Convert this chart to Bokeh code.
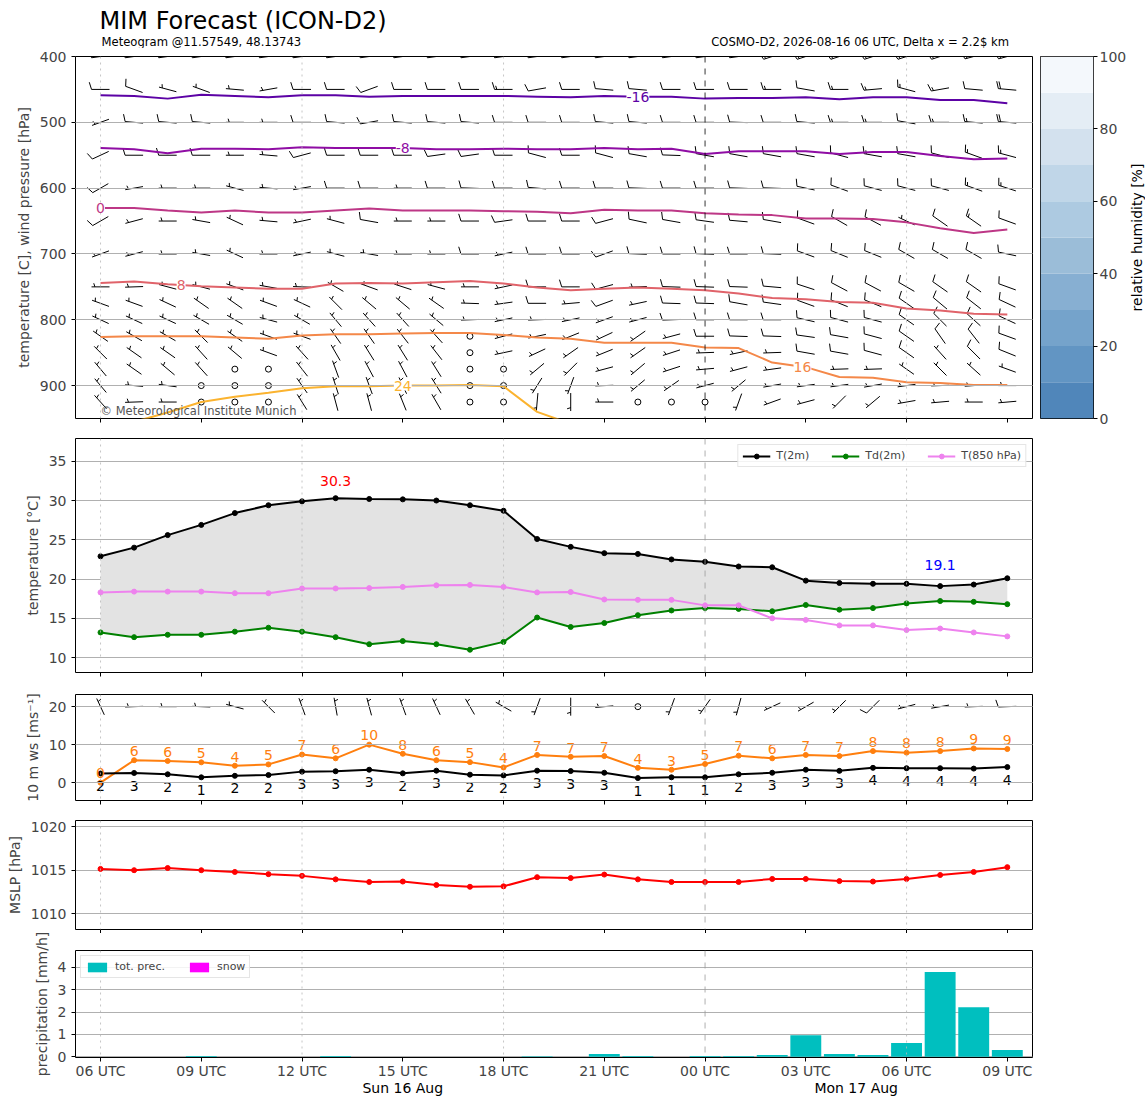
import math
import numpy as np
from bokeh.plotting import figure
from bokeh.layouts import column, row
from bokeh.models import Range1d, FixedTicker, Span, Label, Legend, LegendItem
from bokeh.core.properties import value
from bokeh.embed import file_html
from bokeh.resources import INLINE

FONT = "DejaVu Sans"
NAN = float("nan")

# ---------------- data ----------------
hours = list(range(28))                       # 2026-08-16 06 UTC ... 2026-08-17 09 UTC
tick_hours = [0, 3, 6, 9, 12, 15, 18, 21, 24, 27]
tick_labels = ["06 UTC", "09 UTC", "12 UTC", "15 UTC", "18 UTC", "21 UTC",
               "00 UTC", "03 UTC", "06 UTC", "09 UTC"]
day_labels = ["Sun 16 Aug", "Mon 17 Aug"]
day_label_hours = [9, 22.5]
six_hourly = [0, 6, 12, 24]
midnight = [18]

title_text = "MIM Forecast (ICON-D2)"
subtitle_left = "Meteogram @11.57549, 48.13743"
subtitle_right = "COSMO-D2, 2026-08-16 06 UTC, Delta x = 2.2$ km"

t2m = [22.9, 24.0, 25.6, 26.9, 28.4, 29.4, 29.9, 30.3, 30.2, 30.15, 30.0, 29.4, 28.7, 25.1,
       24.1, 23.3, 23.2, 22.5, 22.2, 21.6, 21.5, 19.8, 19.5, 19.4, 19.4, 19.1, 19.3, 20.1]
td2m = [13.2, 12.6, 12.9, 12.9, 13.3, 13.8, 13.3, 12.6, 11.7, 12.1, 11.7, 11.0, 12.0, 15.1,
        13.9, 14.4, 15.4, 16.0, 16.3, 16.2, 15.9, 16.7, 16.1, 16.3, 16.9, 17.2, 17.1, 16.8]
t850 = [18.3, 18.4, 18.4, 18.4, 18.2, 18.2, 18.8, 18.8, 18.85, 19.0, 19.2, 19.25, 19.0, 18.3,
        18.35, 17.4, 17.35, 17.35, 16.65, 16.65, 15.0, 14.8, 14.1, 14.1, 13.5, 13.7, 13.2, 12.7]

ws10 = [2.4, 2.55, 2.2, 1.4, 1.8, 2.0, 2.9, 3.0, 3.4, 2.45, 3.15, 2.1, 1.9, 3.15,
        3.05, 2.6, 1.2, 1.4, 1.4, 2.2, 2.6, 3.4, 3.1, 3.9, 3.8, 3.8, 3.7, 4.1]
gust10 = [0.0, 5.9, 5.7, 5.35, 4.45, 4.8, 7.4, 6.4, 10.0, 7.6, 5.9, 5.4, 4.0, 7.3,
          6.8, 7.0, 3.9, 3.4, 4.9, 7.1, 6.4, 7.3, 7.0, 8.3, 7.9, 8.3, 9.0, 8.85]
wdir10 = [335, 268, 270, 272, 285, 315, 340, 350, 345, 340, 335, 330, 300, 200,
          180, 265, 0, 200, 215, 195, 245, 240, 225, 225, 255, 260, 268, 268]

mslp = [1015.15, 1015.0, 1015.25, 1015.0, 1014.8, 1014.55, 1014.35, 1013.95, 1013.65, 1013.7,
        1013.3, 1013.1, 1013.15, 1014.2, 1014.1, 1014.5, 1013.95, 1013.65, 1013.65, 1013.65,
        1014.0, 1014.0, 1013.75, 1013.7, 1014.0, 1014.45, 1014.8, 1015.35]

precip = [0, 0, 0, 0.04, 0, 0, 0, 0.04, 0, 0, 0, 0, 0, 0.03, 0, 0.13, 0.04, 0, 0.04, 0.04,
          0.08, 0.97, 0.13, 0.08, 0.62, 3.8, 2.22, 0.31]
snow = [0.0] * 28

# isotherm pressure [hPa] per hour
iso_levels = [-16, -8, 0, 8, 16, 24]
iso_m16 = [459, 460, 464, 458, 460, 462, 459, 459, 461, 460, 460, 460, 460, 461,
           462, 460, 461, 461, 464, 463, 463, 462, 465, 462, 462, 466, 466, 471]
iso_m8 = [539, 541, 547, 540, 540, 541, 538, 539, 539, 539, 541, 541, 540, 541,
          541, 539, 541, 540, 548, 544, 544, 544, 548, 545, 545, 551, 556, 555]
iso_0 = [630, 630, 634, 637, 634, 637, 637, 634, 631, 634, 634, 634, 635, 636,
         638, 633, 634, 634, 638, 640, 641, 646, 646, 647, 652, 661, 668, 663]
iso_8 = [744, 742, 746, 749, 751, 753, 753, 745, 744, 745, 743, 741, 745, 751,
         755, 753, 751, 753, 755, 760, 767, 769, 773, 774, 783, 786, 791, 792]
iso_16 = [826, 825, 825, 825, 827, 829, 824, 822, 822, 821, 820, 820, 823, 827,
          829, 835, 835, 835, 842, 843, 865, 872, 887, 888, 895, 896, 899, 899]
iso_24 = [965, 955, 941, 925, 917, 911, 904, 901, 901, 900, 900, 899, 901, 940,
          958, NAN, NAN, NAN, NAN, NAN, NAN, NAN, NAN, NAN, NAN, NAN, NAN, NAN]
iso_colors = ["#5c02a5", "#8f0da4", "#bd3786", "#e0636a", "#f48849", "#fbb32f"]
iso_label_hours = [16.0, 9.0, 0.0, 2.4, 20.9, 9.0]

# relative humidity colour scale
rh_levels = [0, 10, 20, 30, 40, 50, 60, 70, 80, 90, 100]
rh_colors = ["#5086ba", "#6295c3", "#75a3cb", "#87afd2", "#9bbdd8",
             "#adcae1", "#c0d6e8", "#d3e1ee", "#e4edf5", "#f4f8fc"]
rh_label = "relative humidity [%]"

# upper-air wind: direction [deg] and speed [kt] per hour at each level
barb_levels = [400, 450, 500, 550, 600, 650, 700, 750, 775, 800, 825, 850, 875, 900, 925]
dir_400 = [262, 262, 262, 262, 262, 262, 262, 262, 262, 262, 262, 262, 262, 262,
           262, 262, 262, 262, 262, 262, 252, 252, 252, 252, 252, 252, 255, 255]
spd_400 = [10, 10, 10, 10, 10, 10, 10, 10, 10, 10, 10, 10, 10, 10,
           10, 10, 10, 10, 10, 10, 15, 15, 15, 15, 15, 15, 15, 15]
dir_450 = [270, 290, 285, 290, 275, 260, 270, 270, 250, 270, 270, 270, 270, 260,
           270, 275, 275, 270, 270, 270, 270, 280, 270, 265, 285, 260, 275, 275]
spd_450 = [10, 10, 5, 5, 5, 5, 10, 10, 10, 10, 10, 10, 15, 10,
           10, 10, 10, 10, 10, 10, 15, 10, 15, 15, 15, 15, 10, 20]
dir_500 = [250, 275, 275, 275, 270, 270, 270, 275, 260, 275, 275, 275, 270, 270,
           270, 275, 275, 270, 270, 272, 270, 275, 270, 270, 280, 270, 275, 275]
spd_500 = [5, 10, 10, 10, 5, 5, 10, 10, 10, 10, 10, 10, 10, 10,
           10, 10, 10, 10, 10, 10, 10, 10, 15, 15, 10, 15, 15, 20]
dir_550 = [245, 270, 270, 270, 270, 275, 255, 270, 270, 270, 262, 262, 270, 285,
           270, 285, 280, 272, 280, 280, 280, 280, 285, 280, 280, 285, 290, 285]
spd_550 = [10, 10, 10, 10, 5, 5, 10, 10, 10, 10, 10, 10, 10, 10,
           10, 10, 10, 10, 10, 10, 10, 10, 10, 15, 10, 10, 15, 15]
dir_600 = [240, 260, 270, 270, 285, 275, 260, 270, 270, 270, 270, 272, 270, 275,
           270, 270, 272, 270, 270, 272, 272, 282, 290, 285, 285, 285, 290, 288]
spd_600 = [10, 5, 5, 5, 5, 5, 5, 10, 10, 5, 10, 10, 10, 10,
           10, 10, 10, 10, 10, 10, 10, 10, 10, 10, 10, 10, 15, 15]
dir_650 = [240, 255, 270, 280, 295, 275, 258, 285, 280, 270, 270, 270, 262, 270,
           270, 255, 282, 280, 278, 275, 280, 290, 300, 298, 295, 305, 305, 290]
spd_650 = [10, 5, 5, 5, 5, 5, 5, 5, 10, 5, 5, 10, 10, 10,
           10, 10, 10, 10, 10, 10, 10, 10, 10, 10, 5, 10, 15, 10]
dir_700 = [250, 255, 270, 280, 295, 270, 258, 285, 280, 270, 270, 270, 258, 270,
           270, 250, 272, 270, 272, 270, 272, 290, 292, 292, 300, 300, 300, 282]
spd_700 = [5, 5, 5, 5, 5, 5, 5, 5, 5, 5, 5, 10, 5, 10,
           10, 10, 10, 10, 10, 10, 10, 10, 10, 10, 10, 10, 10, 10]
dir_750 = [270, 268, 285, 285, 290, 280, 272, 300, 290, 288, 285, 270, 258, 270,
           270, 255, 268, 272, 272, 272, 275, 288, 298, 298, 300, 305, 305, 290]
spd_750 = [5, 5, 5, 5, 5, 5, 5, 5, 5, 5, 5, 5, 5, 10,
           10, 10, 5, 10, 10, 10, 10, 10, 10, 10, 10, 10, 10, 10]
dir_775 = [290, 290, 295, 305, 305, 290, 295, 315, 310, 310, 305, 272, 262, 270,
           265, 250, 258, 272, 272, 280, 278, 290, 292, 292, 305, 310, 308, 295]
spd_775 = [5, 5, 5, 5, 5, 5, 5, 5, 5, 5, 5, 5, 5, 10,
           5, 10, 5, 10, 10, 10, 10, 10, 10, 10, 10, 10, 10, 10]
dir_800 = [295, 295, 295, 300, 300, 285, 300, 320, 318, 318, 310, 268, 258, 268,
           258, 250, 255, 268, 270, 270, 270, 283, 285, 285, 305, 315, 312, 295]
spd_800 = [5, 5, 5, 5, 5, 5, 5, 5, 5, 5, 5, 5, 5, 5,
           5, 5, 5, 10, 10, 10, 10, 10, 10, 10, 10, 10, 10, 10]
dir_825 = [305, 300, 300, 315, 305, 290, 290, 325, 325, 322, 318, 0, 255, 258,
           248, 245, 235, 255, 270, 272, 272, 278, 280, 285, 305, 325, 322, 290]
spd_825 = [5, 5, 5, 5, 5, 5, 5, 5, 5, 5, 5, 0, 5, 5,
           5, 5, 5, 5, 10, 10, 10, 10, 10, 10, 10, 10, 10, 10]
dir_850 = [315, 305, 305, 318, 310, 290, 318, 330, 328, 328, 322, 0, 258, 245,
           235, 248, 235, 252, 268, 258, 268, 280, 280, 285, 305, 318, 315, 292]
spd_850 = [5, 5, 5, 5, 5, 5, 5, 5, 5, 5, 5, 0, 5, 5,
           5, 5, 5, 5, 5, 5, 5, 10, 10, 10, 10, 5, 10, 10]
dir_875 = [320, 305, 310, 318, 0, 0, 322, 340, 332, 332, 328, 0, 0, 230,
           225, 255, 230, 252, 265, 255, 262, NAN, 268, 268, 305, 315, 312, 290]
spd_875 = [5, 5, 5, 5, 0, 0, 5, 5, 5, 5, 5, 0, 0, 5,
           5, 5, 5, 5, 5, 5, 5, NAN, 5, 5, 5, 5, 5, 5]
dir_900 = [320, 275, 278, 0, 0, 0, 325, 342, 340, 335, 328, 0, 0, 212,
           200, 268, 230, 235, 255, 230, 260, 262, 262, 260, 262, 268, 266, 270]
spd_900 = [5, 5, 5, 0, 0, 0, 5, 5, 5, 5, 5, 0, 0, 5,
           5, 5, 5, 5, 5, 5, 5, 5, 5, 5, 5, 5, 5, 5]
dir_925 = [318, 268, 270, 0, 0, 0, 328, 345, 345, 338, 330, 0, 0, 185,
           180, 270, 0, 0, 0, 200, 250, 255, 225, 230, 260, 265, 270, 265]
spd_925 = [5, 5, 5, 0, 0, 0, 5, 5, 5, 5, 5, 0, 0, 5,
           5, 5, 0, 0, 0, 5, 5, 5, 5, 5, 5, 5, 5, 5]

wind_dirs = [dir_400, dir_450, dir_500, dir_550, dir_600, dir_650, dir_700, dir_750,
             dir_775, dir_800, dir_825, dir_850, dir_875, dir_900, dir_925]
wind_spds = [spd_400, spd_450, spd_500, spd_550, spd_600, spd_650, spd_700, spd_750,
             spd_775, spd_800, spd_825, spd_850, spd_875, spd_900, spd_925]

# ---------------- geometry ----------------
XMIN, XMAX = -0.745, 27.75
FW = 957
LEFT = 75
xr = Range1d(XMIN, XMAX)
KX = FW / (XMAX - XMIN)
TS = "14px"
FH1 = 362


def barb_geometry(xc_list, yc_list, dirs, spds, ky, ysign, L=18.0):
    segx, segy, cx, cy = [], [], [], []
    sp, hgt, wid = 0.125 * L, 0.4 * L, 0.25 * L
    for xc, yc, dd, ss in zip(xc_list, yc_list, dirs, spds):
        if ss is None or dd is None or math.isnan(ss) or math.isnan(dd):
            continue
        r = int(5 * round(ss / 5.0))
        if r == 0:
            cx.append(xc); cy.append(yc)
            continue
        th = math.radians(dd)
        dx, dy = math.sin(th), math.cos(th)
        nx, ny = dy, -dx

        def P(px, py):
            return xc + px / KX, yc + ysign * py / ky

        ex, ey = dx * L / 2, dy * L / 2
        a, b = P(-ex, -ey), P(ex, ey)
        segx.append([a[0], b[0]]); segy.append([a[1], b[1]])
        nfull = r // 10
        half = (r % 10) == 5
        off = 0.0
        for _ in range(nfull):
            bx, by = ex - dx * off, ey - dy * off
            fx, fy = bx + nx * hgt + dx * wid / 2, by + ny * hgt + dy * wid / 2
            q1, q2 = P(bx, by), P(fx, fy)
            segx.append([q1[0], q2[0]]); segy.append([q1[1], q2[1]])
            off += sp
        if half:
            if nfull == 0:
                off = 1.5 * sp
            bx, by = ex - dx * off, ey - dy * off
            fx, fy = bx + nx * hgt / 2 + dx * wid / 4, by + ny * hgt / 2 + dy * wid / 4
            q1, q2 = P(bx, by), P(fx, fy)
            segx.append([q1[0], q2[0]]); segy.append([q1[1], q2[1]])
    return segx, segy, cx, cy


def strip_fig(h, w=FW, left=LEFT, right=2, top=0, bottom=0, x_range=None):
    s = figure(frame_width=w, frame_height=h,
               x_range=x_range if x_range is not None else xr, y_range=Range1d(0, h),
               x_axis_type=None, y_axis_type=None, output_backend="svg",
               toolbar_location=None, min_border_left=left, min_border_right=right,
               min_border_top=top, min_border_bottom=bottom)
    s.outline_line_color = None
    s.grid.visible = False
    s.background_fill_color = "white"
    s.border_fill_color = "white"
    return s


def base_fig(y_range, fh, top, bottom, yticks, ylabel, mid_color="#9a9a9a",
             mid_width=0.8, labels=False):
    p = figure(frame_width=FW, frame_height=fh, x_range=xr, y_range=y_range,
               output_backend="svg", toolbar_location=None,
               min_border_left=LEFT, min_border_right=2, min_border_top=top,
               min_border_bottom=bottom)
    p.background_fill_color = "white"
    p.border_fill_color = "white"
    p.outline_line_color = "black"
    p.outline_line_width = 1
    p.xgrid.visible = False
    p.yaxis.ticker = FixedTicker(ticks=yticks)
    p.ygrid.ticker = FixedTicker(ticks=yticks)
    p.ygrid.grid_line_color = "#b0b0b0"
    p.ygrid.grid_line_width = 1
    for ax in p.axis:
        ax.axis_line_color = None
        ax.major_tick_line_color = "black"
        ax.major_tick_out = 4
        ax.major_tick_in = 0
        ax.minor_tick_line_color = None
        ax.major_label_text_font = FONT
        ax.major_label_text_font_size = TS
        ax.axis_label_text_font = FONT
        ax.axis_label_text_font_style = "normal"
        ax.axis_label_text_font_size = TS
    p.yaxis.axis_label = ylabel
    if labels:
        p.xaxis.ticker = FixedTicker(ticks=tick_hours)
        p.xaxis.major_label_overrides = {h: lab for h, lab in zip(tick_hours, tick_labels)}
        p.xaxis.major_label_standoff = 1
    else:
        p.xaxis.ticker = FixedTicker(ticks=[], minor_ticks=tick_hours)
        p.xaxis.minor_tick_line_color = "black"
        p.xaxis.minor_tick_out = 4
        p.xaxis.minor_tick_in = 0
        p.xaxis.major_label_standoff = 0
        p.xaxis.axis_label_standoff = 0
    for h in six_hourly:
        p.add_layout(Span(location=h, dimension="height", line_color="#b8b8b8",
                          line_dash="dotted", line_width=0.8))
    for h in midnight:
        p.add_layout(Span(location=h, dimension="height", line_color=mid_color,
                          line_dash="dashed", line_width=mid_width))
    return p


# ---------------- header ----------------
HDR = 48
hdr = strip_fig(HDR)
hdr.text(x=[-0.03], y=[HDR - 20.5], text=[title_text], text_font=value(FONT),
         text_font_size="24px", text_baseline="middle", text_align="left", text_color="black")
hdr.text(x=[0.03], y=[HDR - 41], text=[subtitle_left], text_font=value(FONT),
         text_font_size="11.6px", text_baseline="middle", text_align="left", text_color="black")
hdr.text(x=[27.05], y=[HDR - 41], text=[subtitle_right], text_font=value(FONT),
         text_font_size="11.6px", text_baseline="middle", text_align="right",
         text_color="black")

# ---------------- panel 1: upper air ----------------
P_BOT, P_TOP = 950, 400
p1 = base_fig(Range1d(P_BOT, P_TOP), FH1, 8, 10, [400, 500, 600, 700, 800, 900],
              "temperature [C], wind pressure [hPa]", mid_color="black", mid_width=0.8)
p1.ygrid.level = "guide"
KY1 = FH1 / (P_BOT - P_TOP)

bx_all, by_all, cx_all, cy_all = [], [], [], []
for lev, dl, sl in zip(barb_levels, wind_dirs, wind_spds):
    sx, sy, cx, cy = barb_geometry(hours, [lev] * len(hours), dl, sl, KY1, -1)
    bx_all += sx; by_all += sy; cx_all += cx; cy_all += cy
p1.multi_line(bx_all, by_all, line_color="black", line_width=1)
p1.scatter(cx_all, cy_all, marker="circle", size=6, fill_color=None,
           line_color="black", line_width=1)

iso_series = [iso_m16, iso_m8, iso_0, iso_8, iso_16, iso_24]
for lev, ser, col, lh in zip(iso_levels, iso_series, iso_colors, iso_label_hours):
    p1.line(hours, ser, line_color=col, line_width=2)
    py = float(np.interp(lh, hours, np.array(ser, dtype=float)))
    p1.add_layout(Label(x=lh, y=py, text=str(lev), text_color=col, text_align="center",
                        text_baseline="middle", text_font=FONT, text_font_size=TS,
                        background_fill_color="white"))

p1.add_layout(Label(x=0, y=939, text="\u00a9 Meteorological Institute Munich",
                    text_color="#555555", text_font=FONT, text_font_size="11.5px",
                    text_baseline="middle", text_align="left"))

# colour bar
cb = figure(frame_width=53, frame_height=FH1, x_range=Range1d(0, 1), y_range=Range1d(0, 100),
            output_backend="svg", toolbar_location=None, y_axis_location="right",
            min_border_left=6, min_border_right=28, min_border_top=8, min_border_bottom=10)
cb.quad(left=0, right=1, bottom=rh_levels[:-1], top=rh_levels[1:], fill_color=rh_colors,
        line_color=None)
cb.xaxis.visible = False
cb.grid.visible = False
cb.outline_line_color = "black"
cb.yaxis.ticker = FixedTicker(ticks=[0, 20, 40, 60, 80, 100])
cb.yaxis.axis_line_color = None
cb.yaxis.major_tick_out = 4
cb.yaxis.major_tick_in = 0
cb.yaxis.minor_tick_line_color = None
cb.yaxis.major_label_standoff = 2
cb.yaxis.major_label_text_font = FONT
cb.yaxis.major_label_text_font_size = TS

cbl = strip_fig(FH1, w=16, left=0, right=0, top=8, bottom=10, x_range=Range1d(0, 16))
cbl.text(x=[7], y=[FH1 / 2], text=[rh_label], angle=math.pi / 2, text_font=value(FONT),
         text_font_size=TS, text_baseline="middle", text_align="center", text_color="black")

# ---------------- panel 2: temperature ----------------
p2 = base_fig(Range1d(8.1, 37.9), 234, 10, 11, [10, 15, 20, 25, 30, 35], "temperature [°C]")
p2.varea(x=hours, y1=td2m, y2=t2m, fill_color="#e3e3e3")
lt = p2.line(hours, t2m, line_color="black", line_width=2)
st = p2.scatter(hours, t2m, marker="circle", size=5, color="black")
ld = p2.line(hours, td2m, line_color="green", line_width=2)
sd = p2.scatter(hours, td2m, marker="circle", size=5, color="green")
l8 = p2.line(hours, t850, line_color="violet", line_width=2)
s8 = p2.scatter(hours, t850, marker="circle", size=5, color="violet")
imax = int(np.argmax(t2m))
imin = int(np.argmin(t2m))
p2.add_layout(Label(x=hours[imax], y=t2m[imax] + 2.2, text=f"{t2m[imax]:.1f}", text_color="red",
                    text_align="center", text_baseline="middle", text_font=FONT,
                    text_font_size=TS))
p2.add_layout(Label(x=hours[imin], y=t2m[imin] + 2.7, text=f"{t2m[imin]:.1f}", text_color="blue",
                    text_align="center", text_baseline="middle", text_font=FONT,
                    text_font_size=TS))
leg2 = Legend(items=[LegendItem(label="T(2m)", renderers=[lt, st]),
                     LegendItem(label="Td(2m)", renderers=[ld, sd]),
                     LegendItem(label="T(850 hPa)", renderers=[l8, s8])],
              orientation="horizontal", location="top_right",
              label_text_font=FONT, label_text_font_size="11px", glyph_width=28,
              glyph_height=12, label_height=12, padding=4, spacing=22, label_standoff=6,
              margin=6, border_line_color="#cccccc", background_fill_alpha=0.85)
p2.add_layout(leg2)

# ---------------- panel 3: 10 m wind ----------------
W0, W1 = -4.7, 23.2
FH3 = 106
p3 = base_fig(Range1d(W0, W1), FH3, 11, 10, [0, 10, 20], "10 m ws [ms\u207b\u00b9]")
p3.ygrid.level = "guide"
KY3 = FH3 / (W1 - W0)
spd10_kt = [w * 1.94384 for w in ws10]
sx, sy, cx, cy = barb_geometry(hours, [20] * len(hours), wdir10, spd10_kt, KY3, 1)
p3.multi_line(sx, sy, line_color="black", line_width=1)
p3.scatter(cx, cy, marker="circle", size=6, fill_color=None, line_color="black", line_width=1)
p3.line(hours, gust10, line_color="#ff7f0e", line_width=2)
p3.scatter(hours, gust10, marker="circle", size=5, color="#ff7f0e")
p3.line(hours, ws10, line_color="black", line_width=2)
p3.scatter(hours, ws10, marker="circle", size=5, color="black")
p3.text(x=hours, y=[g + 1.1 for g in gust10], text=[str(int(round(g))) for g in gust10],
        text_align="center", text_baseline="bottom", text_color="#ff7f0e",
        text_font=value(FONT), text_font_size=TS)
p3.text(x=hours, y=[w - 2.0 for w in ws10], text=[str(int(round(w))) for w in ws10],
        text_align="center", text_baseline="top", text_color="black",
        text_font=value(FONT), text_font_size=TS)

# ---------------- panel 4: MSLP ----------------
p4 = base_fig(Range1d(1008.2, 1020.7), 109, 10, 4, [1010, 1015, 1020], "MSLP [hPa]")
p4.line(hours, mslp, line_color="red", line_width=2)
p4.scatter(hours, mslp, marker="circle", size=5, color="red")

# ---------------- panel 5: precipitation ----------------
p5 = base_fig(Range1d(-0.03, 4.76), 107, 17, 20, [0, 1, 2, 3, 4], "precipitation [mm/h]",
              labels=True)
rp = p5.vbar(x=hours, top=precip, width=0.92, fill_color="#00bfbf", line_color=None)
rs = p5.vbar(x=hours, top=snow, width=0.92, fill_color="#ff00ff", line_color=None)
leg5 = Legend(items=[LegendItem(label="tot. prec.", renderers=[rp]),
                     LegendItem(label="snow", renderers=[rs])],
              orientation="horizontal", location="top_left",
              label_text_font=FONT, label_text_font_size="11px", glyph_width=24,
              glyph_height=12, label_height=12, padding=4, spacing=22, label_standoff=6,
              margin=5, border_line_color="#cccccc", background_fill_alpha=0.85)
p5.add_layout(leg5)

# date line below the time axis
dates = strip_fig(24)
dates.text(x=day_label_hours, y=[18] * len(day_labels), text=day_labels, text_font=value(FONT),
           text_font_size=TS, text_baseline="middle", text_align="center", text_color="black")

layout = column(hdr, row(p1, cb, cbl), p2, p3, p4, p5, dates)
open("out.html", "w").write(file_html(layout, INLINE))
